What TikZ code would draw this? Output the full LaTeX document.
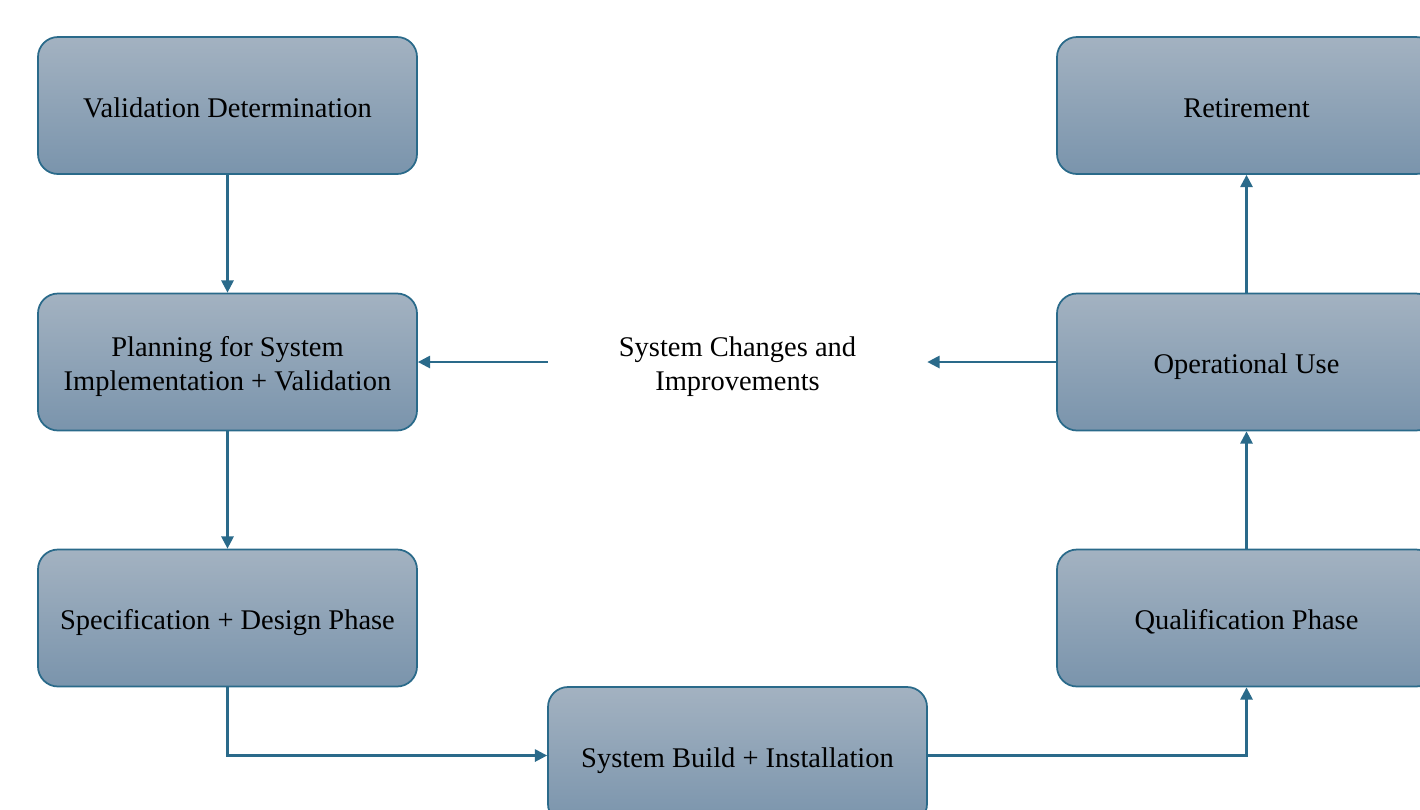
\documentclass[tikz,border=0pt]{standalone}
\usepackage{fontspec}
\setmainfont{Liberation Serif}
\usetikzlibrary{arrows.meta}
\definecolor{edge}{HTML}{2A6A8A}
\definecolor{topc}{HTML}{A3B2C1}
\definecolor{botc}{HTML}{7A94AC}
\newcommand\boxtext[1]{\raisebox{-2.9pt}[\height][\depth]{\begin{tabular}{@{}c@{}}#1\end{tabular}}}
\tikzset{
  phase/.style={draw=edge, line width=1pt, rounded corners=0.4cm, top color=topc, bottom color=botc,
    minimum width=7.58cm, minimum height=2.74cm, align=center, font=\fontsize{16.2}{19.4}\selectfont, text=black},
  plain/.style={minimum width=7.58cm, minimum height=2.74cm, align=center, font=\fontsize{16.2}{19.4}\selectfont},
  conn/.style={draw=edge, line width=1.3pt, -{Triangle[length=7pt,width=7pt]}}
}
\begin{document}
\begin{tikzpicture}
\useasboundingbox (0,0) rectangle (28.4,-16.18);
\clip (0,0) rectangle (28.4,-16.18);
\node[phase] (vd) at (4.55,-2.11) {\boxtext{Validation Determination}};
\node[phase] (plan) at (4.55,-7.24) {\boxtext{Planning for System\\Implementation + Validation}};
\node[phase] (spec) at (4.55,-12.36) {\boxtext{Specification + Design Phase}};
\node[phase] (build) at (14.75,-15.11) {\boxtext{System Build + Installation}};
\node[phase] (ret) at (24.93,-2.11) {\boxtext{Retirement}};
\node[phase] (op) at (24.93,-7.24) {\boxtext{Operational Use}};
\node[phase] (qual) at (24.93,-12.36) {\boxtext{Qualification Phase}};
\node[plain] (chg) at (14.75,-7.24) {\boxtext{System Changes and\\Improvements}};
\draw[conn] (vd.south) -- (plan.north);
\draw[conn] (plan.south) -- (spec.north);
\draw[conn] (spec.south) |- (build.west);
\draw[conn] (build.east) -| (qual.south);
\draw[conn] (qual.north) -- (op.south);
\draw[conn] (op.north) -- (ret.south);
\draw[conn] (op.west) -- (chg.east);
\draw[conn] (chg.west) -- (plan.east);
\end{tikzpicture}
\end{document}
